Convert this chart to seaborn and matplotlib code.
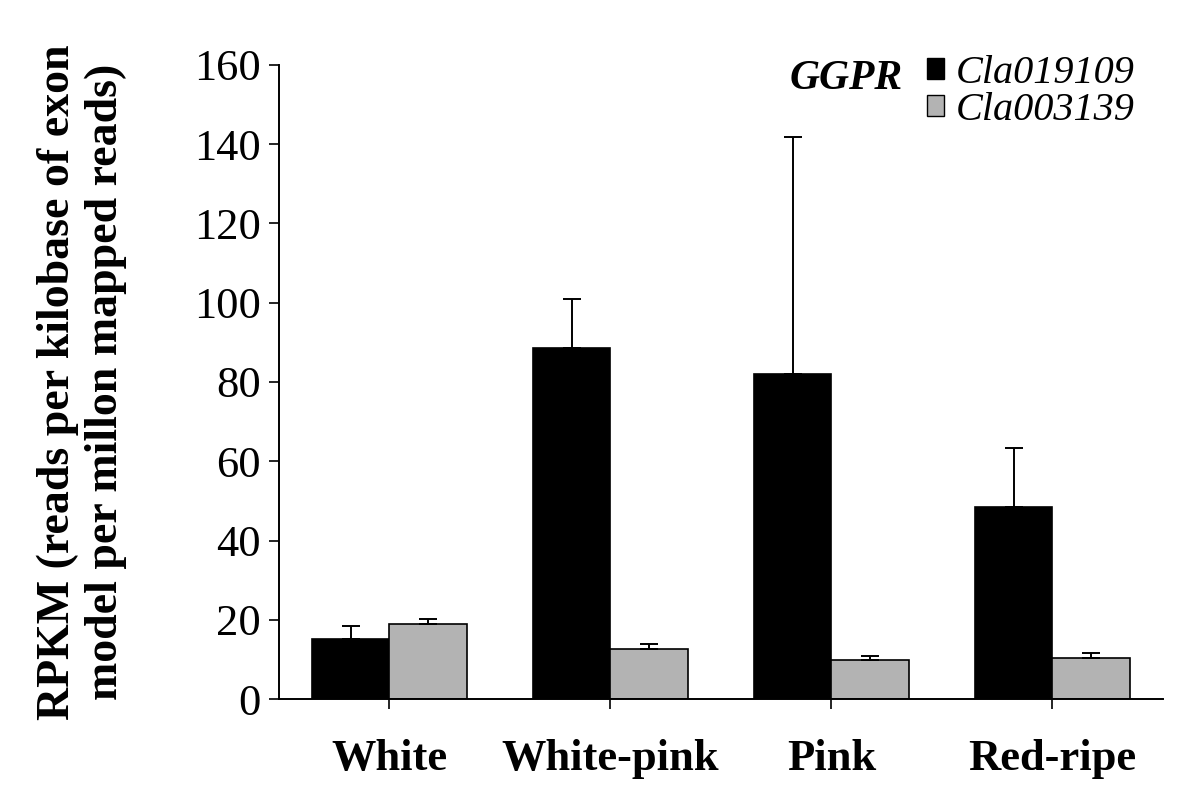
import numpy as np
import pandas as pd
import seaborn as sns
import matplotlib.pyplot as plt
from matplotlib.patches import Patch

# valores
estagios = ['White', 'White-pink', 'Pink', 'Red-ripe']
genes = ['Cla019109', 'Cla003139']
cla019109 = [15.2, 88.5, 81.9, 48.5]
cla003139 = [19.0, 12.7, 9.8, 10.4]
erro_019109 = [3.3, 12.5, 59.9, 14.8]
erro_003139 = [1.2, 1.1, 1.1, 1.2]
cores = ['#000000', '#b3b3b3']

dados = pd.DataFrame({
    'estagio': estagios * 2,
    'gene': [genes[0]] * 4 + [genes[1]] * 4,
    'rpkm': cla019109 + cla003139,
})
erros = {genes[0]: erro_019109, genes[1]: erro_003139}

sns.set_style('ticks')
plt.rcParams['font.family'] = ['Liberation Serif', 'DejaVu Serif']
plt.rcParams['text.color'] = 'black'
plt.rcParams['axes.labelcolor'] = 'black'
plt.rcParams['xtick.color'] = 'black'
plt.rcParams['ytick.color'] = 'black'

fig = plt.figure(figsize=(12, 8.11), dpi=100)
ax = fig.add_axes([0.2325, 0.138, 0.7365, 0.782])

sns.barplot(data=dados, x='estagio', y='rpkm', hue='gene', order=estagios,
            hue_order=genes, palette=cores, width=0.7, gap=0, errorbar=None,
            edgecolor='black', linewidth=1.2, saturation=1, legend=False, ax=ax)

# barras de erro so para cima
for cont, g in zip(ax.containers, genes):
    xs = [p.get_x() + p.get_width() / 2 for p in cont.patches]
    hs = [p.get_height() for p in cont.patches]
    ax.errorbar(xs, hs, yerr=[np.zeros(len(hs)), erros[g]], fmt='none',
                ecolor='black', elinewidth=1.4, capsize=6.5, capthick=1.4,
                zorder=1)

ax.set_ylim(0, 160)
ax.set_xlim(-0.5, 3.5)
ax.set_yticks(range(0, 161, 20))
ax.tick_params(axis='y', labelsize=32, length=7, width=1.2, direction='out',
               pad=6, colors='black')
ax.tick_params(axis='x', labelsize=32, length=7, width=1.2, direction='out',
               pad=22, colors='black')
for lab in ax.get_xticklabels():
    lab.set_fontweight('bold')
ax.set_xlabel('')
ax.set_ylabel('RPKM (reads per kilobase of exon\nmodel per millon mapped reads)',
              fontsize=33, fontweight='bold', labelpad=48, linespacing=1.2,
              color='black')
for s in ['top', 'right']:
    ax.spines[s].set_visible(False)
for s in ['left', 'bottom']:
    ax.spines[s].set_linewidth(1.4)
    ax.spines[s].set_color('black')

alcas = [Patch(facecolor=c, edgecolor='black', linewidth=1) for c in cores]
leg = ax.legend(alcas, genes, loc='upper right', bbox_to_anchor=(1.0, 1.06),
                frameon=False, handlelength=0.42, handleheight=0.42,
                handletextpad=0.3, labelspacing=0.0, borderpad=0.2,
                prop={'family': 'Liberation Serif', 'style': 'italic', 'size': 29})
ax.text(0.578, 0.978, 'GGPR', transform=ax.transAxes, fontsize=30,
        fontweight='bold', fontstyle='italic', va='center', ha='left')

fig.savefig('out.png', dpi=100)
